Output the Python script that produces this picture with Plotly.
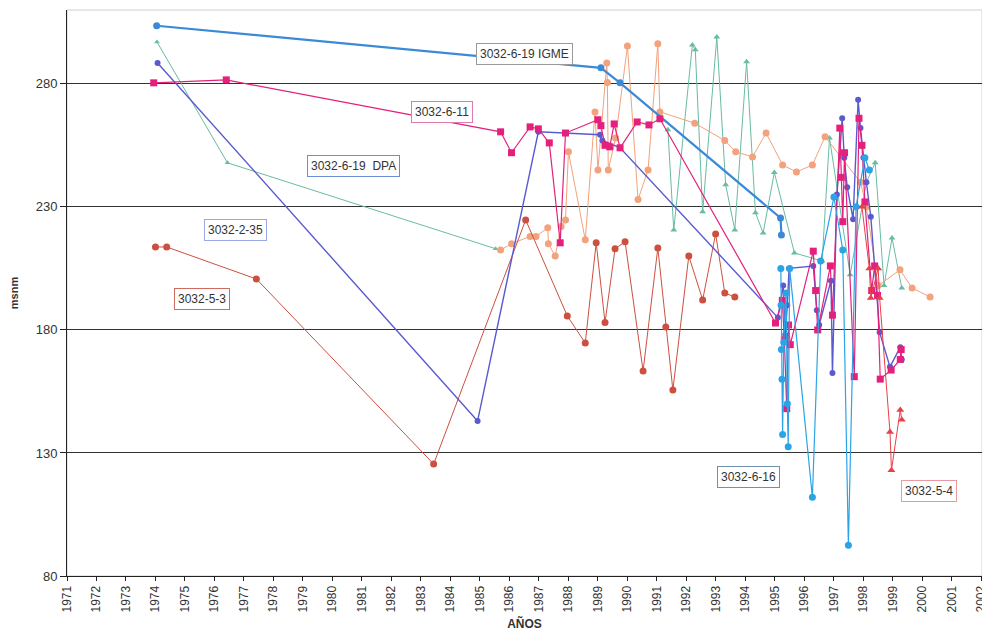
import plotly.graph_objects as go

# ---------------- data (decimal years, msnm) ----------------
igme_x = [1974.04, 1989.10, 1989.75, 1995.19, 1995.22]
igme_y = [303.6, 286.5, 280.4, 225.5, 218.6]

p616_x = [1995.20, 1995.21, 1995.22, 1995.24, 1995.26, 1995.30, 1995.38, 1995.42, 1995.45,
          1995.50, 1996.27, 1996.55, 1997.00, 1997.30, 1997.49, 1997.75, 1998.05, 1998.20]
p616_y = [205, 190, 172, 160, 137.5, 175, 195, 150, 132.5, 205, 112, 208, 234, 212.5, 92.5, 230,
          250, 245]

p235_x = [1974.07, 1984.92, 1986.98, 1989.07, 1989.15, 1989.75, 1995.10, 1995.28, 1995.35, 1995.42,
          1995.48, 1996.30, 1996.42, 1996.50, 1996.90, 1996.95, 1997.10, 1997.28, 1997.35, 1997.45,
          1997.65, 1997.82, 1997.90, 1998.00, 1998.10, 1998.25, 1998.55, 1998.90, 1999.25, 1999.30]
p235_y = [288.5, 143.0, 260.5, 259.3, 257.0, 254.0, 185.0, 198.0, 178.0, 190.0, 205.0, 206.0,
          188.0, 182.0, 200.0, 162.5, 235.0, 266.0, 250.0, 238.0, 225.0, 273.5, 262.0, 250.0, 240.0,
          226.0, 179.0, 165.0, 173.0, 168.0]

p611_x = [1973.94, 1976.40, 1985.70, 1986.07, 1986.70, 1986.98, 1987.35, 1987.72, 1987.90, 1989.00,
          1989.10, 1989.24, 1989.40, 1989.55, 1989.75, 1990.33, 1990.73, 1991.10, 1995.02, 1995.25,
          1995.32, 1995.40, 1995.46, 1995.52, 1996.30, 1996.38, 1996.45, 1996.88, 1996.95, 1997.20,
          1997.25, 1997.30, 1997.36, 1997.69, 1997.85, 1997.95, 1998.05, 1998.28, 1998.38, 1998.48,
          1998.57, 1998.94, 1999.25, 1999.28]
p611_y = [280.4, 281.6, 260.5, 252.0, 262.5, 261.7, 256.0, 215.4, 260.0, 265.4, 263.0, 255.0, 254.4,
          263.7, 254.0, 264.5, 263.3, 265.8, 182.8, 192.0, 176.0, 148.0, 182.0, 174.0, 212.0, 196.0,
          180.0, 206.0, 186.0, 262.0, 242.0, 224.0, 252.0, 161.0, 266.0, 255.0, 232.0, 196.0, 206.0,
          194.0, 160.0, 163.7, 168.0, 172.0]

dpa_x = [1974.05, 1976.44, 1985.53]
dpa_y = [297.0, 247.9, 213.0]

dpa2_x = [1991.37, 1991.57, 1992.20, 1992.30, 1992.55, 1993.03, 1993.33, 1993.64, 1994.04, 1994.34,
          1994.60, 1994.98, 1995.66, 1996.60, 1996.85, 1997.55, 1998.10, 1998.40, 1998.70, 1998.97,
          1999.30]
dpa2_y = [261.3, 220.6, 295.8, 293.8, 228.0, 299.0, 239.0, 220.6, 289.0, 227.6, 219.4, 244.0, 211.3,
          208.0, 258.0, 202.4, 240.0, 247.9, 198.0, 217.4, 197.0]

orng_x = [1985.70, 1986.07, 1986.70, 1986.90, 1987.30, 1987.32, 1987.55, 1987.75, 1987.90, 1988.00,
          1988.57, 1988.90, 1989.00, 1989.30, 1989.32, 1989.35, 1989.60, 1990.00, 1990.36, 1990.70,
          1991.03, 1991.10, 1992.28, 1993.30, 1993.67, 1994.24, 1994.70, 1995.26, 1995.73, 1996.27,
          1996.70, 1997.90, 1998.10, 1998.50, 1999.24, 1999.65, 2000.26]
orng_y = [212.5, 215.0, 218.0, 218.0, 221.5, 215.0, 210.0, 222.0, 224.7, 252.4, 216.6, 268.6, 245.0,
          288.5, 280.5, 245.0, 258.0, 295.4, 233.0, 245.0, 296.3, 268.6, 264.0, 257.0, 252.4, 250.3,
          260.0, 247.0, 244.2, 247.0, 258.5, 240.0, 230.0, 198.0, 204.4, 197.0, 193.4]

p53_x = [1974.00, 1974.38, 1977.42, 1983.43, 1986.55, 1987.96, 1988.57, 1988.94, 1989.24, 1989.58,
         1989.92, 1990.53, 1991.03, 1991.30, 1991.54, 1992.08, 1992.55, 1992.99, 1993.30, 1993.64]
p53_y = [213.7, 213.7, 200.7, 125.5, 224.7, 185.7, 174.7, 215.4, 183.0, 213.0, 215.8, 163.3, 213.3,
         181.2, 155.6, 210.0, 192.2, 219.0, 195.0, 193.4]

p54_x = [1997.95, 1998.20, 1998.25, 1998.50, 1998.55, 1998.90, 1998.95, 1999.25, 1999.30]
p54_y = [230.0, 205.0, 193.0, 205.0, 193.0, 138.5, 123.0, 147.5, 143.5]

year_ticks = list(range(1971, 2003))
y_ticks = [80, 130, 180, 230, 280]

labels = ["3032-6-19 IGME", "3032-6-11", "3032-6-19  DPA", "3032-2-35", "3032-5-3", "3032-6-16", "3032-5-4"]
label_x = [1986.51, 1983.70, 1980.70, 1976.71, 1975.56, 1994.11, 2000.22]
label_y = [292.2, 268.6, 246.7, 220.7, 192.6, 120.2, 114.5]
label_border = ["#9a9a9a", "#e07ab0", "#6a8fd8", "#9aa8e8", "#d06a60", "#7090b0", "#e89aa0"]

# ---------------- figure ----------------
fig = go.Figure()

def add(x, y, color, symbol, size=6, width=1.0):
    fig.add_trace(go.Scatter(x=x, y=y, mode="lines+markers",
                             line=dict(color=color, width=width),
                             marker=dict(color=color, symbol=symbol, size=size),
                             showlegend=False, hoverinfo="x+y"))

add(dpa_x, dpa_y, "#68bca4", "triangle-up", 5)
add(dpa2_x, dpa2_y, "#68bca4", "triangle-up", 6)
add(orng_x, orng_y, "#f2a27c", "circle", 7)
add(p53_x, p53_y, "#cc5040", "circle", 7)
add(p235_x, p235_y, "#5a5ad0", "circle", 6, 1.4)
add(igme_x, igme_y, "#3a8ad8", "circle", 7, 2.2)
add(p611_x, p611_y, "#e4207c", "square", 7, 1.2)
add(p616_x, p616_y, "#2aa4e6", "circle", 7, 1.2)
add(p54_x, p54_y, "#e8404a", "triangle-up", 7)

for t, lx, ly, bc in zip(labels, label_x, label_y, label_border):
    fig.add_annotation(x=lx, y=ly, xref="x", yref="y", text=t, showarrow=False,
                       font=dict(family="Liberation Sans, Arial", size=12, color="#333333"),
                       bgcolor="white", bordercolor=bc, borderwidth=1, borderpad=3)

# faint frame
fig.add_shape(type="rect", xref="paper", yref="paper", x0=0, y0=0, x1=1, y1=1,
              line=dict(color="#cfcfcf", width=1), layer="below")

fig.update_layout(
    width=982, height=635,
    margin=dict(l=59, r=5, t=2, b=67),
    paper_bgcolor="white", plot_bgcolor="white",
    font=dict(family="Liberation Sans, Arial", size=12, color="#333333"),
    xaxis=dict(range=[1971, 2002.02], tickmode="array", tickvals=year_ticks,
               ticktext=[str(v) for v in year_ticks], tickangle=-90,
               ticklabeloverflow="allow",
               showgrid=False, zeroline=False, showline=True, linecolor="#222222", linewidth=1,
               ticks="outside", ticklen=4, tickcolor="#222222",
               tickfont=dict(size=12, color="#333333"),
               title=dict(text="<b>AÑOS</b>", font=dict(size=12, color="#333333"), standoff=8)),
    yaxis=dict(range=[80, 310], tickmode="array", tickvals=y_ticks,
               showgrid=True, gridcolor="#333333", gridwidth=1, zeroline=False,
               showline=True, linecolor="#222222", linewidth=1,
               ticks="outside", ticklen=6, tickcolor="#222222",
               tickfont=dict(size=13, color="#333333"),
               title=dict(text="<b>msnm</b>", font=dict(size=11, color="#333333"), standoff=14)),
)

fig.write_html("out.html")
